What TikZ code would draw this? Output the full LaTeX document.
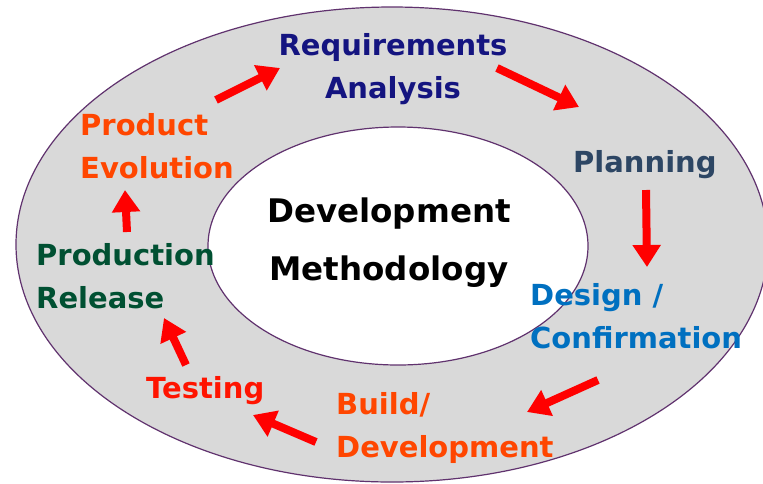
\documentclass[tikz,border=0pt]{standalone}
\usepackage{fontspec}
\setmainfont{DejaVu Sans}
\usetikzlibrary{arrows.meta}
\definecolor{ringfill}{RGB}{217,217,217}
\definecolor{ringline}{RGB}{96,50,110}
\definecolor{arrowred}{RGB}{255,0,0}
\definecolor{navytxt}{RGB}{20,20,128}
\definecolor{slatetxt}{RGB}{45,70,100}
\definecolor{bluetxt}{RGB}{0,112,192}
\definecolor{orangetxt}{RGB}{255,70,0}
\definecolor{redtxt}{RGB}{255,20,0}
\definecolor{greentxt}{RGB}{0,80,50}
\begin{document}
\begin{tikzpicture}[x=1pt,y=-1pt,
  lbl/.style={font=\bfseries\fontsize{29}{43}\selectfont, inner sep=0pt, align=left, anchor=base west},
  flow/.style={draw=arrowred, line width=8pt, -{Triangle[width=27pt,length=22pt]}},
]
\useasboundingbox (0,0) rectangle (763,483);
\begin{scope}
  \clip (0,0) rectangle (763,483);
  \fill[white] (0,0) rectangle (763,483);
  \draw[draw=ringline, fill=ringfill, line width=1.2pt] (392,244.5) ellipse [x radius=376pt, y radius=237.5pt];
  \draw[draw=ringline, fill=white, line width=1.2pt] (398,246) ellipse [x radius=190pt, y radius=119pt];
\end{scope}

\node[font=\bfseries\fontsize{32.5}{58}\selectfont, inner sep=0pt, align=center, anchor=base] (core) at (389,280) {Development\\Methodology};

\node[lbl, text=navytxt, align=center, anchor=base] (req) at (393,98) {Requirements\\Analysis};
\node[lbl, text=slatetxt] (plan) at (573,172) {Planning};
\node[lbl, text=bluetxt] (design) at (530,348) {Design /\\Confirmation};
\node[lbl, text=orangetxt] (build) at (336,457) {Build/\\Development};
\node[lbl, text=redtxt] (test) at (146,398) {Testing};
\node[lbl, text=greentxt] (release) at (36,308) {Production\\Release};
\node[lbl, text=orangetxt] (evol) at (80,178) {Product\\Evolution};

\coordinate (a1s) at (216,100); \coordinate (a1e) at (280,68);
\coordinate (a2s) at (497,68);  \coordinate (a2e) at (579,107);
\coordinate (a3s) at (646,190); \coordinate (a3e) at (647,267);
\coordinate (a4s) at (598,380); \coordinate (a4e) at (527,412);
\coordinate (a5s) at (316,442); \coordinate (a5e) at (253,415);
\coordinate (a6s) at (186,365); \coordinate (a6e) at (164,318);
\coordinate (a7s) at (127,232); \coordinate (a7e) at (125,190);

\draw[flow] (a1s) -- (a1e);
\draw[flow] (a2s) -- (a2e);
\draw[flow] (a3s) -- (a3e);
\draw[flow] (a4s) -- (a4e);
\draw[flow] (a5s) -- (a5e);
\draw[flow] (a6s) -- (a6e);
\draw[flow] (a7s) -- (a7e);
\end{tikzpicture}
\end{document}
